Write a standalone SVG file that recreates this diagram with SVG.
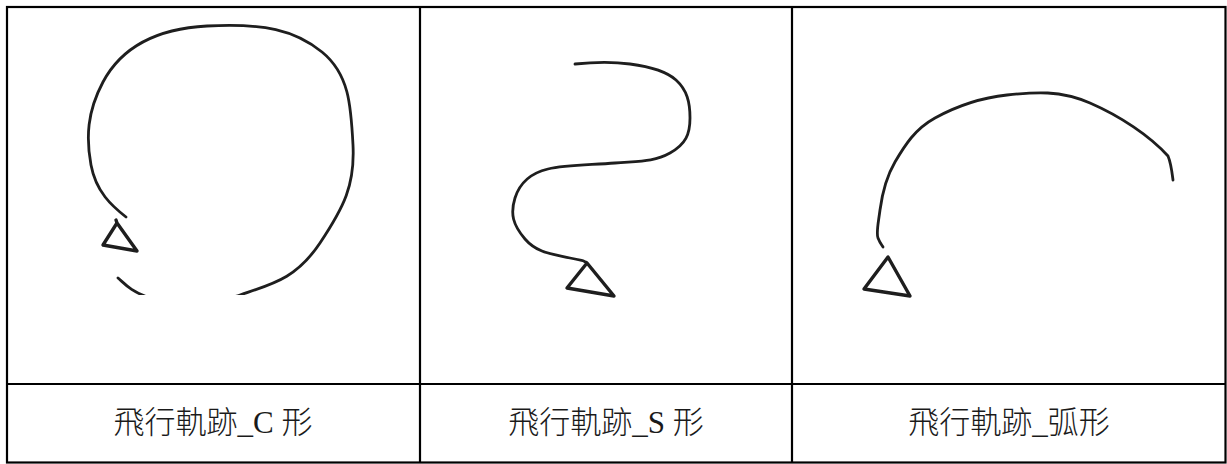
<svg xmlns="http://www.w3.org/2000/svg" width="1227" height="464" viewBox="0 0 1227 464">
  <style>
    .grid { fill: none; stroke: #000; stroke-width: 2.2; }
    .track { fill: none; stroke: #1e1e1e; stroke-width: 2.8; stroke-linecap: round; stroke-linejoin: round; }
    .marker { fill: none; stroke: #1e1e1e; stroke-width: 3.4; stroke-linejoin: round; stroke-linecap: round; }
    .label { font-family: "Liberation Serif", "Noto Sans CJK TC", serif; font-size: 31px; fill: #1a1a1a; text-anchor: middle; font-weight: 300; }
  </style>
  <defs>
    <clipPath id="sketch-c-clip">
      <rect x="30" y="9" width="372" height="286"/>
    </clipPath>
  </defs>

  <rect width="1227" height="464" fill="#fff"/>

  <!-- table frame -->
  <g id="table">
    <rect class="grid" x="7" y="7" width="1218.5" height="455.5"/>
    <line class="grid" x1="420" y1="7" x2="420" y2="462.5"/>
    <line class="grid" x1="792" y1="7" x2="792" y2="462.5"/>
    <line class="grid" x1="7" y1="384" x2="1225.5" y2="384"/>
  </g>

  <!-- C-shaped flight path (lower part runs past the sketch edge and is cut off) -->
  <g id="cell-c">
    <g clip-path="url(#sketch-c-clip)">
      <path class="track" d="M126,217 C112,206 96,192 91,165 S87,112 103,82 S150,29 207,26 S295,30 322,52 S351,105 353,145 S344,207 320,243 S272,284 240,295 C210,305 170,305 150,298 S125,284 118,278"/>
    </g>
    <path class="marker" d="M117,223 L103,245 L137,251 Z M117,223 L116,220"/>
    <text class="label" x="213" y="433">飛行軌跡_C 形</text>
  </g>

  <!-- S-shaped flight path -->
  <g id="cell-s">
    <path class="track" d="M575,64 C595,62 615,62 630,64 S665,70 676,80 S690,102 690,118 S686,144 670,153 S640,161 615,163 S565,165 548,169 S520,182 515,198 S513,225 525,239 S552,254 570,258 S581,260 586,262"/>
    <path class="marker" d="M587,263 L567,288 L614,296 Z"/>
    <text class="label" x="606" y="433">飛行軌跡_S 形</text>
  </g>

  <!-- arc-shaped flight path -->
  <g id="cell-arc">
    <path class="track" d="M1173,180 C1172,172 1171,163 1168,156 C1150,136 1120,116 1090,103 S1035,92 1007,95 S955,107 935,118 S905,145 895,162 S882,195 880,210 S876,233 878,238 S881,244 883,247"/>
    <path class="marker" d="M888,257 L864,289 L910,296 Z"/>
    <text class="label" x="1009" y="433">飛行軌跡_弧形</text>
  </g>
</svg>
